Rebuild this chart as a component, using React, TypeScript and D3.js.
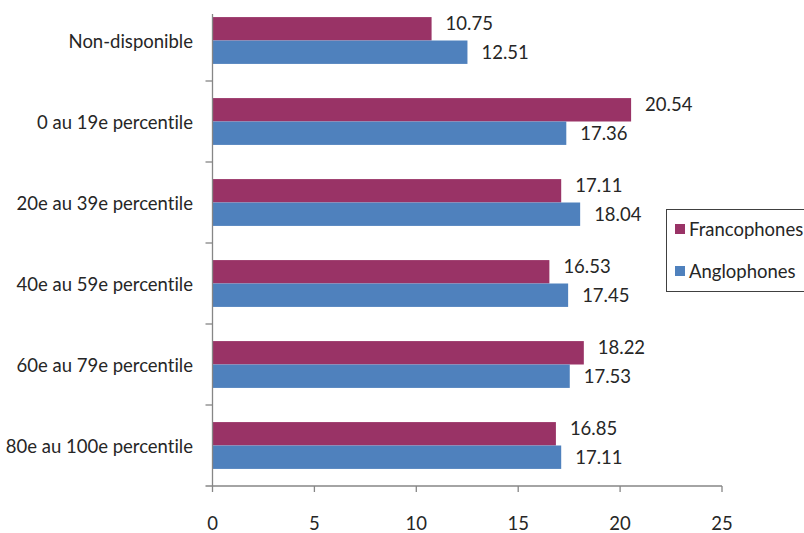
import React from "react";
import * as d3 from "d3";

const categories = [
  "Non-disponible",
  "0 au 19e percentile",
  "20e au 39e percentile",
  "40e au 59e percentile",
  "60e au 79e percentile",
  "80e au 100e percentile",
];
const seriesNames = ["Francophones", "Anglophones"];
const francophones = [10.75, 20.54, 17.11, 16.53, 18.22, 16.85];
const anglophones = [12.51, 17.36, 18.04, 17.45, 17.53, 17.11];
const xTicks = [0, 5, 10, 15, 20, 25];

const colors = ["#993366", "#4F81BD"];
const FONT = "Lato, 'Open Sans', sans-serif";

export default function App() {
  const width = 804;
  const height = 533;
  const left = 212.5;
  const right = 722;
  const plotTop = 0;
  const plotBottom = 486;

  const x = d3.scaleLinear().domain([0, 25]).range([left, right]);
  const y = d3.scaleBand<string>().domain(categories).range([plotTop, plotBottom]).padding(0);
  const inner = d3
    .scaleBand<string>()
    .domain(seriesNames)
    .range([0, y.bandwidth()])
    .paddingInner(0)
    .paddingOuter(0.73);

  const seriesValues = [francophones, anglophones];
  const labelDy = [-6, 0];

  return (
    <svg
      width={width}
      height={height}
      style={{ position: "absolute", left: 0, top: 0, background: "#fff", fontVariantLigatures: "none" }}
      fontFamily={FONT}
    >
      {/* bars */}
      {categories.map((c, i) =>
        seriesNames.map((s, k) => {
          const v = seriesValues[k][i];
          const by = (y(c) as number) + (inner(s) as number);
          const bh = inner.bandwidth();
          return (
            <g key={c + s}>
              <rect x={x(0)} y={by} width={x(v) - x(0)} height={bh} fill={colors[k]} />
              <text
                x={x(v) + 14}
                y={by + bh / 2 + labelDy[k]}
                dominantBaseline="central"
                fontSize={18.5}
                fill="#262626"
              >
                {v.toFixed(2)}
              </text>
            </g>
          );
        })
      )}

      {/* y axis */}
      <line x1={left} x2={left} y1={14} y2={plotBottom} stroke="#868686" strokeWidth={1.3} />
      {categories.map((c, i) =>
        i > 0 ? (
          <line
            key={"yt" + c}
            x1={left - 7}
            x2={left}
            y1={y(c) as number}
            y2={y(c) as number}
            stroke="#868686"
            strokeWidth={1.3}
          />
        ) : null
      )}
      {categories.map((c) => (
        <text
          key={"yl" + c}
          x={193}
          y={(y(c) as number) + y.bandwidth() / 2}
          textAnchor="end"
          dominantBaseline="central"
          fontSize={18.5}
          fill="#262626"
        >
          {c}
        </text>
      ))}

      {/* x axis */}
      <line x1={left - 7} x2={right} y1={plotBottom} y2={plotBottom} stroke="#868686" strokeWidth={1.3} />
      {xTicks.map((t) => (
        <g key={"xt" + t}>
          <line x1={x(t)} x2={x(t)} y1={plotBottom} y2={plotBottom + 6} stroke="#868686" strokeWidth={1.3} />
          <text
            x={x(t)}
            y={523}
            textAnchor="middle"
            dominantBaseline="central"
            fontSize={18.5}
            fill="#262626"
          >
            {t}
          </text>
        </g>
      ))}

      {/* legend */}
      <rect x={666.5} y={209.5} width={140} height={82} fill="#fff" stroke="#404040" strokeWidth={1} />
      {seriesNames.map((s, k) => (
        <g key={"lg" + s}>
          <rect x={675} y={224 + k * 42} width={10} height={10} fill={colors[k]} />
          <text x={689} y={229 + k * 42} dominantBaseline="central" fontSize={18.5} fill="#262626">
            {s}
          </text>
        </g>
      ))}
    </svg>
  );
}
